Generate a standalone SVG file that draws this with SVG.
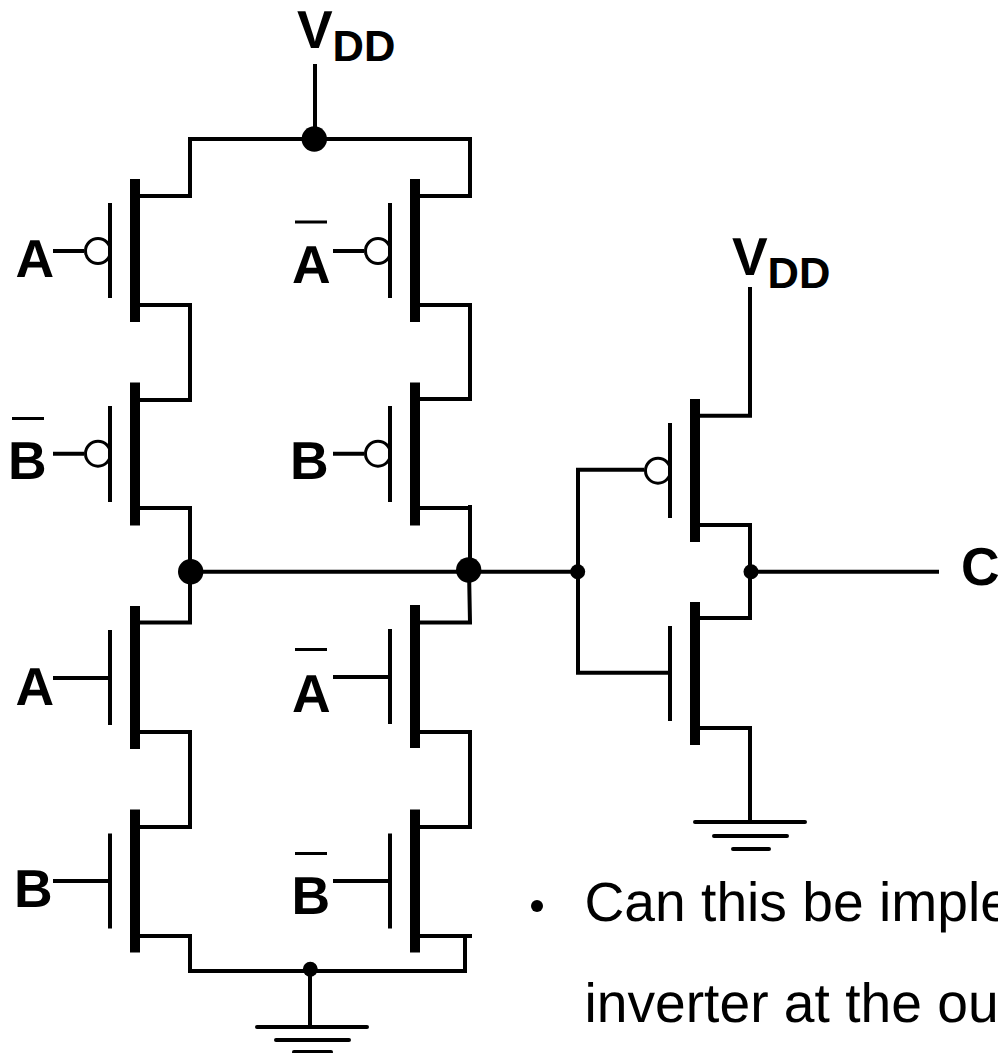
<svg xmlns="http://www.w3.org/2000/svg" xmlns:xlink="http://www.w3.org/1999/xlink" width="998" height="1053" viewBox="0 0 998 1053">
<style>
.w{fill:none;stroke:#000;stroke-width:4}
.g{fill:none;stroke:#000;stroke-width:4;stroke-linecap:round}
.b{fill:#fff;stroke:#000;stroke-width:3}
.d{fill:#000}
text{text-rendering:geometricPrecision}
.l{font-family:"Liberation Sans",Arial,sans-serif;font-weight:700;font-size:53.500px;fill:#000}
.s{font-size:43.500px}
.t{font-family:"Liberation Sans",Arial,sans-serif;font-size:55.200px;fill:#000}
.o{fill:none;stroke:#000;stroke-width:3}
</style>
<defs>
<g id="fet"><rect class="d" x="130" y="0" width="10" height="143"/><rect class="d" x="108" y="24" width="4" height="95"/></g>
</defs>
<rect width="998" height="1053" fill="#fff"/>
<g id="connectors">
<path class="w" d="M315 64V139M190 198V139H470V196H420"/>
<path class="w" d="M140 196H190"/>
<path class="w" d="M140 305H190V400H140"/>
<path class="w" d="M420 305H470V399H420"/>
<path class="w" d="M140 508H190V622.500H140"/>
<path class="w" d="M420 508H470V505"/>
<path class="w" d="M470 508V570"/>
<path class="w" d="M469 570L470 622.500H420"/>
<path class="w" d="M190 571.700H578"/>
<path class="w" d="M751 571.700H939"/>
<path class="w" d="M140 732H190V827H140"/>
<path class="w" d="M420 732H470V827H420"/>
<path class="w" d="M140 936H190V971H465V936"/>
<path class="w" d="M420 936H472"/>
<path class="w" d="M310 970V1027"/>
<path class="w" d="M750 287V415.700H700"/>
<path class="w" d="M700 525H750V618H700"/>
<path class="w" d="M700 728H750V822"/>
<path class="w" d="M644 469.700H578V672.700H668"/>
<path class="w" d="M53 251H84M333 251H364M53 453.700H84M333 453.700H364"/>
<path class="w" d="M53 678H108M333 677H388M53 881H108M333 881H388"/>
</g>
<g id="pmos-a"><use xlink:href="#fet" y="179"/><circle class="b" cx="98" cy="251" r="12.500"/><rect class="d" x="108" y="203" width="4" height="95"/></g>
<g id="pmos-a-bar"><use xlink:href="#fet" x="280" y="179"/><circle class="b" cx="378" cy="251" r="12.500"/><rect class="d" x="388" y="203" width="4" height="95"/></g>
<g id="pmos-b-bar"><use xlink:href="#fet" y="382.500"/><circle class="b" cx="98" cy="453.700" r="12.500"/><rect class="d" x="108" y="406" width="4" height="96"/></g>
<g id="pmos-b"><use xlink:href="#fet" x="280" y="382.500"/><circle class="b" cx="378" cy="453.700" r="12.500"/><rect class="d" x="388" y="406" width="4" height="96"/></g>
<g id="nmos-a"><use xlink:href="#fet" y="606"/></g>
<g id="nmos-a-bar"><use xlink:href="#fet" x="280" y="605"/></g>
<g id="nmos-b"><use xlink:href="#fet" y="809.500"/></g>
<g id="nmos-b-bar"><use xlink:href="#fet" x="280" y="809.500"/></g>
<g id="inv-pmos"><use xlink:href="#fet" x="560" y="399"/><circle class="b" cx="658" cy="470.700" r="12.500"/><rect class="d" x="668" y="423" width="4" height="95"/></g>
<g id="inv-nmos"><use xlink:href="#fet" x="560" y="602"/></g>
<g id="junctions">
<circle class="d" cx="314.300" cy="139" r="12.700"/>
<circle class="d" cx="190.700" cy="571.700" r="12.700"/>
<circle class="d" cx="468.700" cy="570" r="12.700"/>
<circle class="d" cx="577.700" cy="571.700" r="7.500"/>
<circle class="d" cx="751" cy="571.700" r="7.500"/>
<circle class="d" cx="310.300" cy="969.300" r="7.500"/>
</g>
<g id="ground-left"><path class="g" d="M257 1027H367M276 1040H349M294 1052H331"/></g>
<g id="ground-right"><path class="g" d="M695 822H805M714 836H787M733 849H769"/></g>
<g id="vdd-top"><text class="l" x="297" y="47.500">V</text><text class="l s" x="332.500" y="60.500">DD</text></g>
<g id="vdd-right"><text class="l" x="732" y="275">V</text><text class="l s" x="767.500" y="288">DD</text></g>
<g id="label-a1"><text class="l" x="15.500" y="277">A</text></g>
<g id="label-a1-bar"><text class="l" x="292" y="283">A</text><path class="o" d="M295 222H327"/></g>
<g id="label-b1-bar"><text class="l" x="8" y="479">B</text><path class="o" d="M12 418.500H44"/></g>
<g id="label-b1"><text class="l" x="290" y="479">B</text></g>
<g id="label-a2"><text class="l" x="15.500" y="705">A</text></g>
<g id="label-a2-bar"><text class="l" x="292" y="712">A</text><path class="o" d="M295 649.500H327"/></g>
<g id="label-b2"><text class="l" x="14" y="907">B</text></g>
<g id="label-b2-bar"><text class="l" x="291.500" y="914">B</text><path class="o" d="M295 853.500H327"/></g>
<g id="label-c"><text class="l" x="961" y="585">C</text></g>
<g id="note">
<circle class="d" cx="537" cy="906" r="6"/>
<text class="t" x="584.500" y="920.500">Can this be imple</text>
<text class="t" x="584.500" y="1021.500">inverter at the ou</text>
</g>
</svg>
